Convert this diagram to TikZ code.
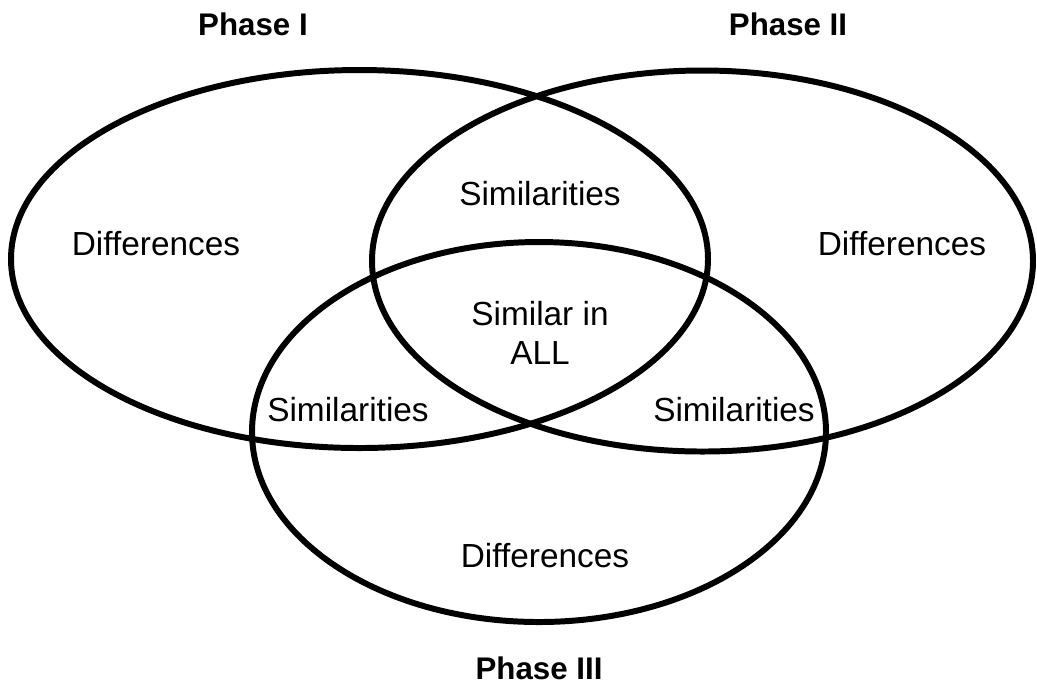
\documentclass[tikz,border=0pt]{standalone}
\usepackage{fontspec}
\setmainfont{Liberation Sans}

\begin{document}
\begin{tikzpicture}[ring/.style={line width=1.7pt}, txt/.style={font=\fontsize{9.5}{11}\selectfont, align=center, inner sep=0pt}, title/.style={txt, font=\fontsize{8.9}{11}\selectfont\bfseries}]
        \useasboundingbox (0,0) rectangle (10.37,-6.92);
        \coordinate (c1) at (3.595,-2.59);
        \coordinate (c2) at (7.025,-2.61);
        \coordinate (c3) at (5.39,-4.32);
        \draw[ring] (c1) ellipse [x radius=3.485, y radius=1.89];
        \draw[ring] (c2) ellipse [x radius=3.305, y radius=1.905];
        \draw[ring] (c3) ellipse [x radius=2.87, y radius=1.90];
        \node[title] (p1) at (2.53,-0.24) {Phase I};
        \node[title] (p2) at (7.88,-0.24) {Phase II};
        \node[title] (p3) at (5.39,-6.68) {Phase III};
        \node[txt] (d1) at (1.56,-2.44) {Differences};
        \node[txt] (d2) at (9.02,-2.44) {Differences};
        \node[txt] (d3) at (5.45,-5.56) {Differences};
        \node[txt] (s12) at (5.40,-1.94) {Similarities};
        \node[txt] (s13) at (3.48,-4.10) {Similarities};
        \node[txt] (s23) at (7.34,-4.10) {Similarities};
        \node[txt] (all) at (5.40,-3.33) {Similar in\\ALL};
    \end{tikzpicture}
\end{document}
